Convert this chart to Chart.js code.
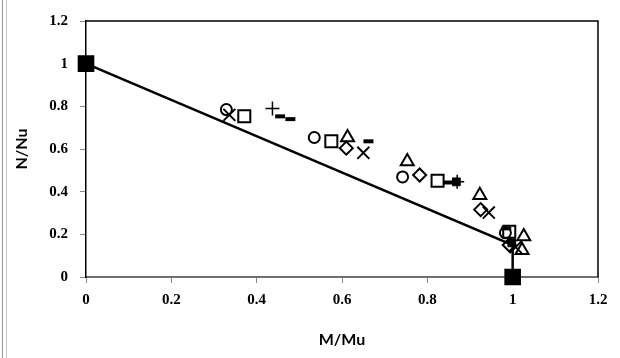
<!DOCTYPE html>
<html>
<head>
<meta charset="utf-8">
<script src="https://cdn.jsdelivr.net/npm/chart.js@4.4.1/dist/chart.umd.min.js"></script>
<style>
  html, body { margin: 0; padding: 0; background: #fff; }
  #wrap { position: relative; width: 620px; height: 358px; }
  #edge { position: absolute; left: 2px; top: 0; width: 3px; height: 358px;
          border-left: 1px solid #9a9a9a; border-right: 1px solid #c8c8c8; }
</style>
</head>
<body>
<div id="wrap">
  <div id="edge"></div>
  <canvas id="chart" width="620" height="358"></canvas>
</div>
<script>
/* --------------------------------------------------
   数据：M/Mu 与 N/Nu
   -------------------------------------------------- */
var X_TICKS = [0, 0.2, 0.4, 0.6, 0.8, 1, 1.2];
var Y_TICKS = [0, 0.2, 0.4, 0.6, 0.8, 1, 1.2];

// 理论曲线
var curveM = [0, 1, 1];
var curveN = [1, 0.15, 0];

// 各组试件
var circleM   = [0.329, 0.535, 0.742, 0.983];
var circleN   = [0.785, 0.654, 0.469, 0.207];
var squareM   = [0.371, 0.575, 0.824, 0.992];
var squareN   = [0.753, 0.636, 0.451, 0.212];
var triM      = [0.613, 0.753, 0.923, 1.026, 1.022];
var triN      = [0.654, 0.541, 0.383, 0.190, 0.125];
var diamondM  = [0.610, 0.782, 0.925, 0.992];
var diamondN  = [0.604, 0.478, 0.316, 0.150];
var crossM    = [0.336, 0.650, 0.944, 1.007];
var crossN    = [0.760, 0.582, 0.302, 0.140];
var plusM     = [0.437, 0.870];
var plusN     = [0.790, 0.446];
var dashM     = [0.455, 0.479, 0.662, 0.850, 0.985];
var dashN     = [0.753, 0.740, 0.636, 0.443, 0.228];
var dotM      = [0.868, 0.998];
var dotN      = [0.446, 0.160];

function pts(xs, ys) {
  return xs.map(function (x, i) { return { x: x, y: ys[i] }; });
}

function markerSet(xs, ys, style, radius, width, fill) {
  return {
    type: 'scatter',
    data: pts(xs, ys),
    pointStyle: style,
    pointRadius: radius,
    pointBorderWidth: width,
    pointBorderColor: '#000',
    pointBackgroundColor: fill || 'rgba(0,0,0,0)',
    showLine: false,
    clip: false,
  };
}

var datasets = [
  markerSet(circleM, circleN, 'circle', 5.5, 2),
  markerSet(squareM, squareN, 'rect', 8.5, 2),
  markerSet(triM, triN, 'triangle', 7.5, 2),
  markerSet(diamondM, diamondN, 'rectRot', 6.5, 2),
  markerSet(crossM, crossN, 'crossRot', 8.5, 2),
  markerSet(plusM, plusN, 'cross', 7, 1.5),
  markerSet(dashM, dashN, 'line', 5, 4),
  markerSet(dotM, dotN, 'rect', 5.5, 1, '#000'),
  {
    type: 'scatter',
    data: pts(curveM, curveN),
    showLine: true,
    borderColor: '#000',
    borderWidth: 2.5,
    pointStyle: 'rect',
    pointRadius: [10, 0, 10],
    pointBackgroundColor: '#000',
    pointBorderColor: '#000',
    tension: 0,
    clip: false,
  },
];

// 绘图区上、右边框
var frame = {
  id: 'frame',
  beforeDatasetsDraw: function (chart) {
    var a = chart.chartArea, ctx = chart.ctx;
    ctx.save();
    ctx.strokeStyle = '#000';
    ctx.lineWidth = 1.5;
    ctx.beginPath();
    ctx.moveTo(a.left, a.top);
    ctx.lineTo(a.right, a.top);
    ctx.lineTo(a.right, a.bottom);
    ctx.stroke();
    ctx.restore();
  },
};

var tickFont  = { family: 'Liberation Serif', size: 15, weight: 'bold' };
var titleFont = { family: 'Lato', size: 16, weight: 'bold' };

new Chart(document.getElementById('chart'), {
  type: 'scatter',
  data: { datasets: datasets },
  plugins: [frame],
  options: {
    responsive: false,
    animation: false,
    layout: { padding: { top: 11, right: 22, left: 0, bottom: 0 } },
    plugins: { legend: { display: false }, tooltip: { enabled: false } },
    scales: {
      x: {
        type: 'linear',
        min: 0, max: 1.2,
        afterBuildTicks: function (s) { s.ticks = X_TICKS.map(function (v) { return { value: v }; }); },
        afterFit: function (s) { s.height = 81; },
        ticks: {
          color: '#000', font: tickFont, padding: 8, maxRotation: 0,
          callback: function (v) { return String(v); },
        },
        grid: { drawOnChartArea: false, drawTicks: true, tickLength: 6, color: '#888' },
        border: { display: true, color: '#6e6e6e', width: 2 },
        title: { display: true, text: 'M/Mu', color: '#000', font: titleFont, padding: { top: 0, bottom: 9 } },
      },
      y: {
        type: 'linear',
        min: 0, max: 1.2,
        afterBuildTicks: function (s) { s.ticks = Y_TICKS.map(function (v) { return { value: v }; }); },
        afterFit: function (s) { s.width = 86; },
        ticks: {
          color: '#000', font: tickFont, padding: 12,
          callback: function (v) { return String(v); },
        },
        grid: { drawOnChartArea: false, drawTicks: true, tickLength: 6, color: '#888' },
        border: { display: true, color: '#000', width: 1.5 },
        title: { display: true, text: 'N/Nu', color: '#000', font: titleFont, padding: { top: 12, bottom: 0 } },
      },
    },
  },
});
</script>
</body>
</html>
